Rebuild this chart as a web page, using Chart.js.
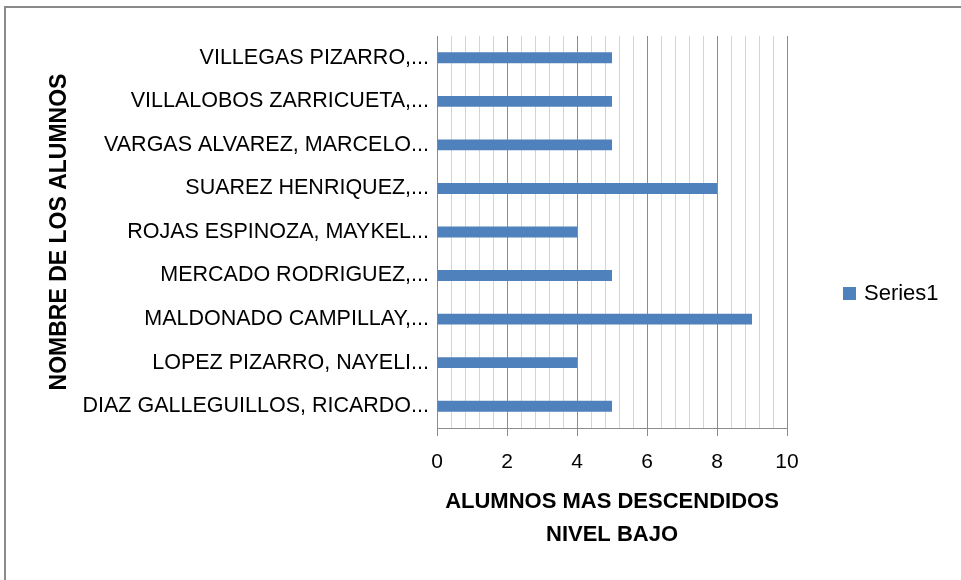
<!DOCTYPE html>
<html>
<head>
<meta charset="utf-8">
<script src="https://cdn.jsdelivr.net/npm/chart.js@4.4.0/dist/chart.umd.min.js"></script>
<style>
    html, body { margin: 0; padding: 0; background: #fff; }
    #wrap { position: relative; width: 961px; height: 580px; overflow: hidden; }
    #frame { position: absolute; left: 4px; top: 6px; width: 1000px; height: 1000px;
             border-top: 2px solid #8a8a8a; border-left: 2px solid #8a8a8a; pointer-events: none; }
    canvas { position: absolute; left: 0; top: 0; }
</style>
</head>
<body>
<div id="wrap">
    <canvas id="chart" width="961" height="580"></canvas>
    <div id="frame"></div>
</div>
<script>
const students = [
    'DIAZ GALLEGUILLOS, RICARDO...',
    'LOPEZ PIZARRO, NAYELI...',
    'MALDONADO CAMPILLAY,...',
    'MERCADO RODRIGUEZ,...',
    'ROJAS ESPINOZA, MAYKEL...',
    'SUAREZ HENRIQUEZ,...',
    'VARGAS ALVAREZ, MARCELO...',
    'VILLALOBOS ZARRICUETA,...',
    'VILLEGAS PIZARRO,...'
];
const series1 = [5, 4, 9, 5, 4, 8, 5, 5, 5];
const seriesName = 'Series1';
const xTitle = ['ALUMNOS MAS DESCENDIDOS', 'NIVEL BAJO'];
const yTitle = 'NOMBRE DE LOS ALUMNOS';

const FONT = '"Liberation Sans", Arial, sans-serif';
const BLUE = '#4f81bd';
const isMajor = v => Math.abs(v / 2 - Math.round(v / 2)) < 1e-6;

// legend drawn by hand so it sits where Excel put it
const sideLegend = {
    id: 'sideLegend',
    afterDraw(chart) {
        const ds = chart.data.datasets[0];
        const ctx = chart.ctx;
        ctx.save();
        ctx.fillStyle = ds.backgroundColor;
        ctx.fillRect(843, 287, 13, 13);
        ctx.fillStyle = '#000';
        ctx.font = `22px ${FONT}`;
        ctx.textBaseline = 'middle';
        ctx.fillText(ds.label, 864, 294);
        ctx.restore();
    }
};

new Chart(document.getElementById('chart'), {
    type: 'bar',
    data: {
        labels: students,
        datasets: [{
            label: seriesName,
            data: series1,
            backgroundColor: BLUE,
            categoryPercentage: 1,
            barPercentage: 0.25
        }]
    },
    options: {
        indexAxis: 'y',
        responsive: false,
        animation: false,
        devicePixelRatio: 1,
        layout: { padding: { top: 36, right: 174, bottom: 0, left: 0 } },
        plugins: {
            legend: { display: false },
            tooltip: { enabled: false }
        },
        scales: {
            x: {
                type: 'linear',
                min: 0,
                max: 10,
                afterFit: s => { s.height = 152; },
                ticks: {
                    stepSize: 0.4,
                    autoSkip: false,
                    maxRotation: 0,
                    padding: 14,
                    color: '#000',
                    font: { family: FONT, size: 21 },
                    callback: v => isMajor(v) ? Math.round(v) : ''
                },
                grid: {
                    color: c => isMajor(c.tick.value) ? '#8c8c8c' : '#d4d4d4',
                    tickColor: c => isMajor(c.tick.value) ? '#8c8c8c' : 'rgba(0,0,0,0)',
                    tickLength: 8
                },
                border: { color: '#8c8c8c' },
                title: {
                    display: true,
                    text: xTitle,
                    color: '#000',
                    font: { family: FONT, size: 22, weight: 'bold', lineHeight: 1.5 },
                    padding: { top: 0, bottom: 29 }
                }
            },
            y: {
                reverse: true,
                afterFit: s => { s.width = 437; },
                grid: { display: false },
                border: { display: false },
                ticks: {
                    color: '#000',
                    padding: 0,
                    font: { family: FONT, size: 21.5 }
                },
                title: {
                    display: true,
                    text: yTitle,
                    color: '#000',
                    font: { family: FONT, size: 23, weight: 'bold' },
                    padding: { top: 46, bottom: 0 }
                }
            }
        }
    },
    plugins: [sideLegend]
});
</script>
</body>
</html>
